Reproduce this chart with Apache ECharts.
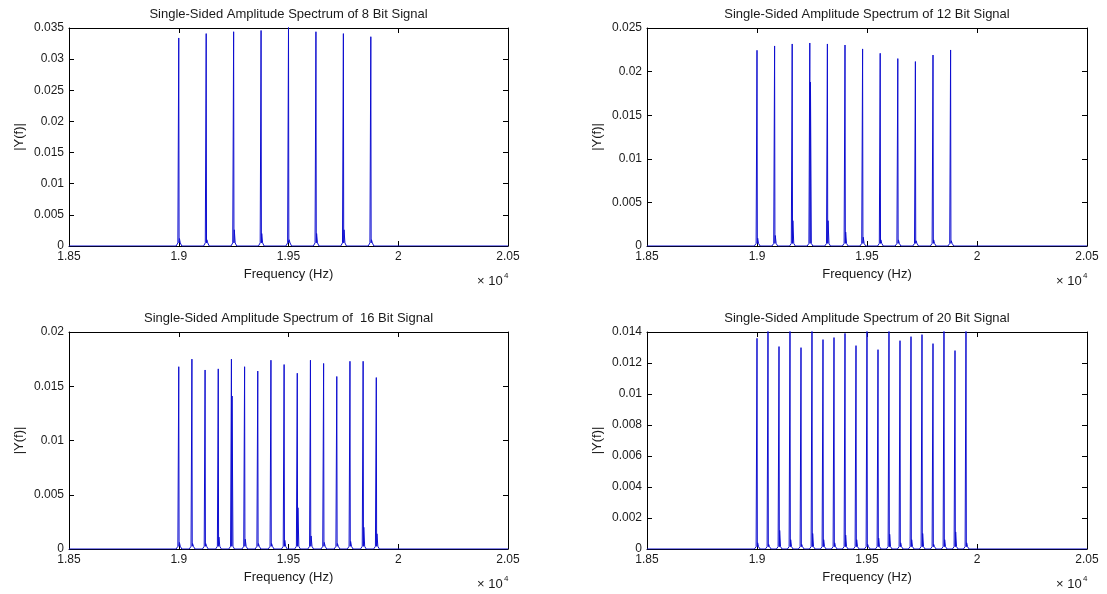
<!DOCTYPE html>
<html>
<head>
<meta charset="utf-8">
<script src="https://cdn.jsdelivr.net/npm/echarts@6/dist/echarts.min.js"></script>
<style>
  html, body { margin: 0; padding: 0; background: #ffffff; }
  #chart { width: 1107px; height: 594px; }
</style>
</head>
<body>
<div id="chart"></div>
<script>
// ---- Spectrum data: tone frequencies (Hz), main-lobe amplitude and the small
// ---- companion spike that sits just above each tone.
const freq8  = [19000, 19125, 19250, 19375, 19500, 19625, 19750, 19875];
const peak8  = [0.0334, 0.0341, 0.0344, 0.0346, 0.0352, 0.0344, 0.0341, 0.0336];
const side8  = [0.0012, 0.0010, 0.0026, 0.0020, 0.0010, 0.0020, 0.0026, 0.0010];

const freq12 = [19000, 19080, 19160, 19240, 19320, 19400, 19480, 19560, 19640, 19720, 19800, 19880];
const peak12 = [0.02244, 0.02294, 0.02317, 0.02328, 0.02317, 0.02305, 0.0226, 0.0221, 0.02149, 0.02115, 0.0219, 0.02248];
const side12 = [0.0009, 0.0012, 0.0029, 0.0188, 0.0029, 0.0016, 0.0010, 0.0007, 0.0007, 0.0006, 0.0007, 0.0006];

const freq16 = [19000, 19060, 19120, 19180, 19240, 19300, 19360, 19420, 19480, 19540, 19600, 19660, 19720, 19780, 19840, 19900];
const peak16 = [0.0168, 0.0175, 0.0165, 0.0166, 0.0175, 0.0168, 0.0164, 0.0174, 0.0170, 0.0162, 0.0174, 0.0171, 0.0159, 0.0173, 0.0173, 0.0158];
const side16 = [0.0006, 0.0005, 0.0005, 0.0011, 0.0141, 0.0009, 0.0005, 0.0005, 0.0008, 0.0038, 0.0012, 0.0006, 0.0005, 0.0007, 0.0020, 0.0014];

const freq20 = [19000, 19050, 19100, 19150, 19200, 19250, 19300, 19350, 19400, 19450, 19500, 19550, 19600, 19650, 19700, 19750, 19800, 19850, 19900, 19950];
const peak20 = [0.01359, 0.0145, 0.01306, 0.0145, 0.01299, 0.0145, 0.01351, 0.01364, 0.01391, 0.01312, 0.0145, 0.01286, 0.0145, 0.01344, 0.0137, 0.01383, 0.01325, 0.0145, 0.0128, 0.0145];
const side20 = [0.0004, 0.0003, 0.0012, 0.0006, 0.0003, 0.0010, 0.0006, 0.0004, 0.0009, 0.0006, 0.0003, 0.0007, 0.00095, 0.0004, 0.0006, 0.0010, 0.0003, 0.0006, 0.0011, 0.0004];

// Height of the little leakage skirt at the foot of each tone
const skirt8 = 0.0005, skirt12 = 0.0003, skirt16 = 0.00025, skirt20 = 0.00015;

// Axis ticks
const xTickLabels   = ['1.85', '1.9', '1.95', '2', '2.05'];
const yTickLabels8  = ['0', '0.005', '0.01', '0.015', '0.02', '0.025', '0.03', '0.035'];
const yTickLabels12 = ['0', '0.005', '0.01', '0.015', '0.02', '0.025'];
const yTickLabels16 = ['0', '0.005', '0.01', '0.015', '0.02'];
const yTickLabels20 = ['0', '0.002', '0.004', '0.006', '0.008', '0.01', '0.012', '0.014'];

const titles = [
  'Single-Sided Amplitude Spectrum of 8 Bit Signal',
  'Single-Sided Amplitude Spectrum of 12 Bit Signal',
  'Single-Sided Amplitude Spectrum of  16 Bit Signal',
  'Single-Sided Amplitude Spectrum of 20 Bit Signal'
];

// ---- Build the polyline for one spectrum (baseline + each tone with its skirt)
function spectrum(freqs, peaks, sides, skirt) {
  const pts = [[18500, 0]];
  freqs.forEach((f, i) => {
    pts.push([f - 12, 0], [f - 4, skirt], [f, peaks[i]], [f + 1.5, skirt],
             [f + 3, sides[i]], [f + 7, skirt], [f + 14, 0]);
  });
  pts.push([20500, 0]);
  return pts;
}

const panels = [
  { data: spectrum(freq8,  peak8,  side8,  skirt8),  yMax: 0.035, yStep: 0.005, yLabels: yTickLabels8,
    grid: { left: 69,  top: 28,  width: 439, height: 218 } },
  { data: spectrum(freq12, peak12, side12, skirt12), yMax: 0.025, yStep: 0.005, yLabels: yTickLabels12,
    grid: { left: 647, top: 28,  width: 440, height: 218 } },
  { data: spectrum(freq16, peak16, side16, skirt16), yMax: 0.02,  yStep: 0.005, yLabels: yTickLabels16,
    grid: { left: 69,  top: 332, width: 439, height: 217 } },
  { data: spectrum(freq20, peak20, side20, skirt20), yMax: 0.014, yStep: 0.002, yLabels: yTickLabels20,
    grid: { left: 647, top: 332, width: 440, height: 217 } }
];

const FONT = '"Liberation Sans", Arial, Helvetica, sans-serif';
const INK = '#1a1a1a';
const LINE_BLUE = '#0e0ed0';

const grid = [], xAxis = [], yAxis = [], series = [], title = [], graphic = [];

panels.forEach((p, k) => {
  grid.push(Object.assign({ containLabel: false }, p.grid));
  const g = p.grid;

  title.push({
    text: titles[k],
    left: g.left + g.width / 2,
    top: g.top - 20,
    textAlign: 'center',
    padding: 0,
    textStyle: { fontFamily: FONT, fontSize: 13, fontWeight: 'normal', color: INK }
  });

  const axisLine = { show: true, onZero: false, lineStyle: { color: '#000', width: 1 } };
  const tick = { show: true, inside: true, length: 5, lineStyle: { color: '#000', width: 1 } };

  // bottom x axis (labelled)
  xAxis.push({
    type: 'value', gridIndex: k, position: 'bottom',
    min: 18500, max: 20500, interval: 500,
    name: 'Frequency (Hz)', nameLocation: 'middle', nameGap: 22,
    nameTextStyle: { fontFamily: FONT, fontSize: 13, color: INK },
    axisLine: axisLine, axisTick: tick,
    axisLabel: { margin: 5, fontFamily: FONT, fontSize: 12, color: INK,
                 formatter: (v, i) => xTickLabels[i] },
    splitLine: { show: false }
  });
  // top x axis (ticks only, closes the box)
  xAxis.push({
    type: 'value', gridIndex: k, position: 'top',
    min: 18500, max: 20500, interval: 500,
    axisLine: axisLine, axisTick: tick,
    axisLabel: { show: false }, splitLine: { show: false }
  });
  // left y axis (labelled)
  yAxis.push({
    type: 'value', gridIndex: k, position: 'left',
    min: 0, max: p.yMax, interval: p.yStep,
    name: '|Y(f)|', nameLocation: 'middle', nameGap: 43, nameRotate: 90,
    nameTextStyle: { fontFamily: FONT, fontSize: 13, color: INK },
    axisLine: axisLine, axisTick: tick,
    axisLabel: { margin: 5, fontFamily: FONT, fontSize: 12, color: INK,
                 formatter: (v, i) => p.yLabels[i] },
    splitLine: { show: false }
  });
  // right y axis (ticks only)
  yAxis.push({
    type: 'value', gridIndex: k, position: 'right',
    min: 0, max: p.yMax, interval: p.yStep,
    axisLine: axisLine, axisTick: tick,
    axisLabel: { show: false }, splitLine: { show: false }
  });

  series.push({
    type: 'line',
    xAxisIndex: 2 * k, yAxisIndex: 2 * k,
    data: p.data,
    showSymbol: false, symbol: 'none',
    clip: true, sampling: null,
    lineStyle: { color: LINE_BLUE, width: 1 },
    z: 5
  });

  // "x 10^4" exponent note under the right end of the x axis
  const right = g.left + g.width;
  const bottom = g.top + g.height;
  graphic.push({
    type: 'text', left: right - 31, top: bottom + 29,
    style: { text: '× 10', font: '13px ' + FONT, fill: INK }
  });
  graphic.push({
    type: 'text', left: right - 4, top: bottom + 26,
    style: { text: '4', font: '8px ' + FONT, fill: INK }
  });
});

const chart = echarts.init(document.getElementById('chart'), null, { renderer: 'canvas' });
chart.setOption({
  animation: false,
  backgroundColor: '#ffffff',
  title, grid, xAxis, yAxis, series, graphic
});
</script>
</body>
</html>
